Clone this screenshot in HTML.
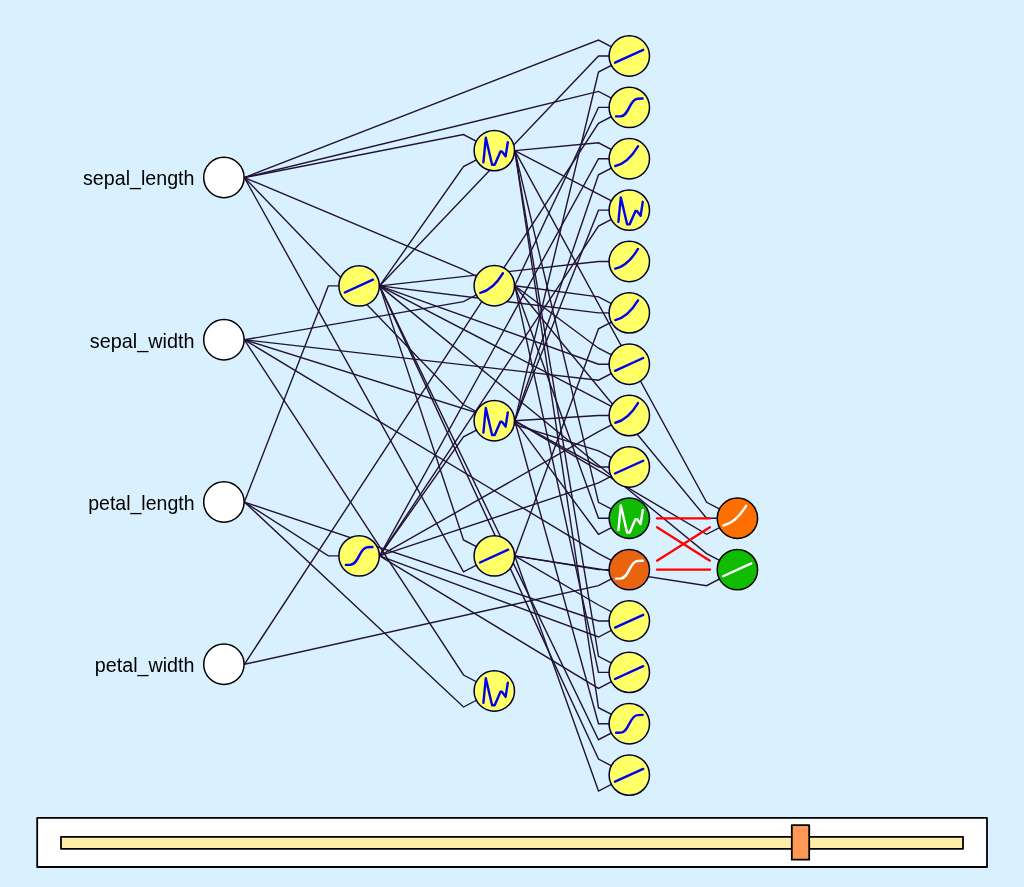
<!DOCTYPE html>
<html><head><meta charset="utf-8"><title>Network</title>
<style>
html,body{margin:0;padding:0;background:#d9f0ff;}
body{width:1024px;height:887px;overflow:hidden;font-family:"Liberation Sans",sans-serif;}
svg{display:block;will-change:transform}
text{font-family:"Liberation Sans",sans-serif;font-size:20px;fill:#000}
</style></head><body>
<svg width="1024" height="887" viewBox="0 0 1024 887">
<g fill="none" stroke="#221236" stroke-width="1.4" stroke-linejoin="miter">
<polyline points="244.40,502.05 328.30,285.90 359.10,285.90"/>
<polyline points="244.40,502.05 328.30,555.90 359.10,555.90"/>
<polyline points="244.40,177.55 463.50,134.60 494.30,150.60"/>
<polyline points="379.60,285.90 463.50,166.60 494.30,150.60"/>
<polyline points="244.40,177.55 463.50,269.70 494.30,285.70"/>
<polyline points="244.40,339.80 463.50,301.70 494.30,285.70"/>
<polyline points="244.40,177.55 463.50,404.80 494.30,420.80"/>
<polyline points="379.60,555.90 463.50,436.80 494.30,420.80"/>
<polyline points="379.60,285.90 463.50,539.90 494.30,555.90"/>
<polyline points="244.40,177.55 463.50,571.90 494.30,555.90"/>
<polyline points="244.40,339.80 463.50,675.00 494.30,691.00"/>
<polyline points="244.40,502.05 463.50,707.00 494.30,691.00"/>
<polyline points="244.40,177.55 598.50,40.05 629.30,56.05"/>
<polyline points="379.60,285.90 598.50,56.05 629.30,56.05"/>
<polyline points="514.80,420.80 598.50,72.05 629.30,56.05"/>
<polyline points="244.40,177.55 598.50,91.41 629.30,107.41"/>
<polyline points="514.80,285.70 598.50,107.41 629.30,107.41"/>
<polyline points="244.40,664.30 598.50,123.41 629.30,107.41"/>
<polyline points="514.80,150.60 598.50,142.77 629.30,158.77"/>
<polyline points="379.60,555.90 598.50,158.77 629.30,158.77"/>
<polyline points="514.80,420.80 598.50,174.77 629.30,158.77"/>
<polyline points="514.80,150.60 598.50,194.13 629.30,210.13"/>
<polyline points="514.80,420.80 598.50,210.13 629.30,210.13"/>
<polyline points="379.60,555.90 598.50,226.13 629.30,210.13"/>
<polyline points="379.60,285.90 598.50,261.49 629.30,261.49"/>
<polyline points="514.80,285.70 598.50,296.85 629.30,312.85"/>
<polyline points="379.60,285.90 598.50,312.85 629.30,312.85"/>
<polyline points="514.80,555.90 598.50,328.85 629.30,312.85"/>
<polyline points="514.80,285.70 598.50,348.21 629.30,364.21"/>
<polyline points="379.60,285.90 598.50,364.21 629.30,364.21"/>
<polyline points="244.40,339.80 598.50,380.21 629.30,364.21"/>
<polyline points="379.60,285.90 598.50,399.57 629.30,415.57"/>
<polyline points="514.80,420.80 598.50,415.57 629.30,415.57"/>
<polyline points="379.60,555.90 598.50,431.57 629.30,415.57"/>
<polyline points="244.40,339.80 598.50,450.93 629.30,466.93"/>
<polyline points="514.80,420.80 598.50,466.93 629.30,466.93"/>
<polyline points="379.60,555.90 598.50,482.93 629.30,466.93"/>
<polyline points="514.80,150.60 598.50,502.29 629.30,518.29"/>
<polyline points="514.80,285.70 598.50,518.29 629.30,518.29"/>
<polyline points="514.80,420.80 598.50,534.29 629.30,518.29"/>
<polyline points="244.40,339.80 598.50,553.65 629.30,569.65"/>
<polyline points="514.80,555.90 598.50,569.65 629.30,569.65"/>
<polyline points="244.40,664.30 598.50,585.65 629.30,569.65"/>
<polyline points="514.80,555.90 598.50,605.01 629.30,621.01"/>
<polyline points="244.40,502.05 598.50,621.01 629.30,621.01"/>
<polyline points="379.60,555.90 598.50,637.01 629.30,621.01"/>
<polyline points="514.80,150.60 598.50,656.37 629.30,672.37"/>
<polyline points="514.80,285.70 598.50,672.37 629.30,672.37"/>
<polyline points="379.60,555.90 598.50,688.37 629.30,672.37"/>
<polyline points="514.80,150.60 598.50,707.73 629.30,723.73"/>
<polyline points="514.80,420.80 598.50,723.73 629.30,723.73"/>
<polyline points="379.60,285.90 598.50,739.73 629.30,723.73"/>
<polyline points="379.60,285.90 598.50,759.09 629.30,775.09"/>
<polyline points="514.80,555.90 598.50,791.09 629.30,775.09"/>
<polyline points="514.80,150.60 706.60,502.30 737.40,518.30"/>
<polyline points="514.80,285.70 706.60,518.30 737.40,518.30"/>
<polyline points="514.80,420.80 706.60,534.30 737.40,518.30"/>
<polyline points="379.60,285.90 706.60,553.65 737.40,569.65"/>
<polyline points="514.80,555.90 706.60,585.65 737.40,569.65"/>
</g>
<g fill="none" stroke="#ff0000" stroke-width="2.2" stroke-linecap="round">
<line x1="656.8" y1="518.3" x2="710.1" y2="518.3"/>
<line x1="657" y1="527.2" x2="709.9" y2="560.7"/>
<line x1="657" y1="560.7" x2="709.9" y2="527.2"/>
<line x1="656.8" y1="569.6" x2="710.1" y2="569.6"/>
</g>
<circle cx="223.90" cy="177.55" r="20.2" fill="#fff" stroke="#000" stroke-width="1.5"/>
<circle cx="223.90" cy="339.80" r="20.2" fill="#fff" stroke="#000" stroke-width="1.5"/>
<circle cx="223.90" cy="502.05" r="20.2" fill="#fff" stroke="#000" stroke-width="1.5"/>
<circle cx="223.90" cy="664.30" r="20.2" fill="#fff" stroke="#000" stroke-width="1.5"/>
<g transform="translate(359.10,285.90)"><circle r="20.2" fill="#ffff66" stroke="#000030" stroke-width="1.5"/><path d="M-14.3,6.6 L13.9,-6.2" fill="none" stroke="#0000ee" stroke-width="2.4" stroke-linecap="round" stroke-linejoin="round"/></g>
<g transform="translate(359.10,555.90)"><circle r="20.2" fill="#ffff66" stroke="#000030" stroke-width="1.5"/><path d="M-13.2,9 L-8.5,8.9 C-4.5,8.6 -2.5,5 0,0 C2.5,-5 4.5,-8.3 8.3,-8.6 L13.3,-8.9" fill="none" stroke="#0000ee" stroke-width="2.4" stroke-linecap="round" stroke-linejoin="round"/></g>
<g transform="translate(494.30,150.60)"><circle r="20.2" fill="#ffff66" stroke="#000030" stroke-width="1.5"/><path d="M-10.9,11.8 L-8.5,-12.8 L-2.2,14.2 L0.4,14.2 L6.2,0.8 L7.6,0.8 L11.3,5.7 L13.5,-8.3" fill="none" stroke="#0000ee" stroke-width="2.4" stroke-linecap="round" stroke-linejoin="round"/></g>
<g transform="translate(494.30,285.70)"><circle r="20.2" fill="#ffff66" stroke="#000030" stroke-width="1.5"/><path d="M-14,7.2 C-6.5,5.5 1.6,-0.7 8.7,-12.5" fill="none" stroke="#0000ee" stroke-width="2.4" stroke-linecap="round" stroke-linejoin="round"/></g>
<g transform="translate(494.30,420.80)"><circle r="20.2" fill="#ffff66" stroke="#000030" stroke-width="1.5"/><path d="M-10.9,11.8 L-8.5,-12.8 L-2.2,14.2 L0.4,14.2 L6.2,0.8 L7.6,0.8 L11.3,5.7 L13.5,-8.3" fill="none" stroke="#0000ee" stroke-width="2.4" stroke-linecap="round" stroke-linejoin="round"/></g>
<g transform="translate(494.30,555.90)"><circle r="20.2" fill="#ffff66" stroke="#000030" stroke-width="1.5"/><path d="M-14.3,6.6 L13.9,-6.2" fill="none" stroke="#0000ee" stroke-width="2.4" stroke-linecap="round" stroke-linejoin="round"/></g>
<g transform="translate(494.30,691.00)"><circle r="20.2" fill="#ffff66" stroke="#000030" stroke-width="1.5"/><path d="M-10.9,11.8 L-8.5,-12.8 L-2.2,14.2 L0.4,14.2 L6.2,0.8 L7.6,0.8 L11.3,5.7 L13.5,-8.3" fill="none" stroke="#0000ee" stroke-width="2.4" stroke-linecap="round" stroke-linejoin="round"/></g>
<g transform="translate(629.30,56.05)"><circle r="20.2" fill="#ffff66" stroke="#000030" stroke-width="1.5"/><path d="M-14.3,6.6 L13.9,-6.2" fill="none" stroke="#0000ee" stroke-width="2.4" stroke-linecap="round" stroke-linejoin="round"/></g>
<g transform="translate(629.30,107.41)"><circle r="20.2" fill="#ffff66" stroke="#000030" stroke-width="1.5"/><path d="M-13.2,9 L-8.5,8.9 C-4.5,8.6 -2.5,5 0,0 C2.5,-5 4.5,-8.3 8.3,-8.6 L13.3,-8.9" fill="none" stroke="#0000ee" stroke-width="2.4" stroke-linecap="round" stroke-linejoin="round"/></g>
<g transform="translate(629.30,158.77)"><circle r="20.2" fill="#ffff66" stroke="#000030" stroke-width="1.5"/><path d="M-14,7.2 C-6.5,5.5 1.6,-0.7 8.7,-12.5" fill="none" stroke="#0000ee" stroke-width="2.4" stroke-linecap="round" stroke-linejoin="round"/></g>
<g transform="translate(629.30,210.13)"><circle r="20.2" fill="#ffff66" stroke="#000030" stroke-width="1.5"/><path d="M-10.9,11.8 L-8.5,-12.8 L-2.2,14.2 L0.4,14.2 L6.2,0.8 L7.6,0.8 L11.3,5.7 L13.5,-8.3" fill="none" stroke="#0000ee" stroke-width="2.4" stroke-linecap="round" stroke-linejoin="round"/></g>
<g transform="translate(629.30,261.49)"><circle r="20.2" fill="#ffff66" stroke="#000030" stroke-width="1.5"/><path d="M-14,7.2 C-6.5,5.5 1.6,-0.7 8.7,-12.5" fill="none" stroke="#0000ee" stroke-width="2.4" stroke-linecap="round" stroke-linejoin="round"/></g>
<g transform="translate(629.30,312.85)"><circle r="20.2" fill="#ffff66" stroke="#000030" stroke-width="1.5"/><path d="M-14,7.2 C-6.5,5.5 1.6,-0.7 8.7,-12.5" fill="none" stroke="#0000ee" stroke-width="2.4" stroke-linecap="round" stroke-linejoin="round"/></g>
<g transform="translate(629.30,364.21)"><circle r="20.2" fill="#ffff66" stroke="#000030" stroke-width="1.5"/><path d="M-14.3,6.6 L13.9,-6.2" fill="none" stroke="#0000ee" stroke-width="2.4" stroke-linecap="round" stroke-linejoin="round"/></g>
<g transform="translate(629.30,415.57)"><circle r="20.2" fill="#ffff66" stroke="#000030" stroke-width="1.5"/><path d="M-14,7.2 C-6.5,5.5 1.6,-0.7 8.7,-12.5" fill="none" stroke="#0000ee" stroke-width="2.4" stroke-linecap="round" stroke-linejoin="round"/></g>
<g transform="translate(629.30,466.93)"><circle r="20.2" fill="#ffff66" stroke="#000030" stroke-width="1.5"/><path d="M-14.3,6.6 L13.9,-6.2" fill="none" stroke="#0000ee" stroke-width="2.4" stroke-linecap="round" stroke-linejoin="round"/></g>
<g transform="translate(629.30,518.29)"><circle r="20.2" fill="#11bb00" stroke="#000030" stroke-width="1.5"/><path d="M-10.9,11.8 L-8.5,-12.8 L-2.2,14.2 L0.4,14.2 L6.2,0.8 L7.6,0.8 L11.3,5.7 L13.5,-8.3" fill="none" stroke="#ffffff" stroke-width="2.4" stroke-linecap="round" stroke-linejoin="round"/></g>
<g transform="translate(629.30,569.65)"><circle r="20.2" fill="#e8640f" stroke="#000030" stroke-width="1.5"/><path d="M-13.2,9 L-8.5,8.9 C-4.5,8.6 -2.5,5 0,0 C2.5,-5 4.5,-8.3 8.3,-8.6 L13.3,-8.9" fill="none" stroke="#ffffff" stroke-width="2.4" stroke-linecap="round" stroke-linejoin="round"/></g>
<g transform="translate(629.30,621.01)"><circle r="20.2" fill="#ffff66" stroke="#000030" stroke-width="1.5"/><path d="M-14.3,6.6 L13.9,-6.2" fill="none" stroke="#0000ee" stroke-width="2.4" stroke-linecap="round" stroke-linejoin="round"/></g>
<g transform="translate(629.30,672.37)"><circle r="20.2" fill="#ffff66" stroke="#000030" stroke-width="1.5"/><path d="M-14.3,6.6 L13.9,-6.2" fill="none" stroke="#0000ee" stroke-width="2.4" stroke-linecap="round" stroke-linejoin="round"/></g>
<g transform="translate(629.30,723.73)"><circle r="20.2" fill="#ffff66" stroke="#000030" stroke-width="1.5"/><path d="M-13.2,9 L-8.5,8.9 C-4.5,8.6 -2.5,5 0,0 C2.5,-5 4.5,-8.3 8.3,-8.6 L13.3,-8.9" fill="none" stroke="#0000ee" stroke-width="2.4" stroke-linecap="round" stroke-linejoin="round"/></g>
<g transform="translate(629.30,775.09)"><circle r="20.2" fill="#ffff66" stroke="#000030" stroke-width="1.5"/><path d="M-14.3,6.6 L13.9,-6.2" fill="none" stroke="#0000ee" stroke-width="2.4" stroke-linecap="round" stroke-linejoin="round"/></g>
<g transform="translate(737.40,518.30)"><circle r="20.2" fill="#ff6f00" stroke="#000000" stroke-width="1.5"/><path d="M-14,7.2 C-6.5,5.5 1.6,-0.7 8.7,-12.5" fill="none" stroke="#ffffff" stroke-width="2.4" stroke-linecap="round" stroke-linejoin="round"/></g>
<g transform="translate(737.40,569.65)"><circle r="20.2" fill="#11bb00" stroke="#000000" stroke-width="1.5"/><path d="M-14.3,6.6 L13.9,-6.2" fill="none" stroke="#ffffff" stroke-width="2.4" stroke-linecap="round" stroke-linejoin="round"/></g>
<text transform="translate(194.50,185.45) scale(0.9830,1)" text-anchor="end">sepal_length</text><text transform="translate(194.50,347.70) scale(0.9920,1)" text-anchor="end">sepal_width</text><text transform="translate(194.50,509.95) scale(0.9760,1)" text-anchor="end">petal_length</text><text transform="translate(194.50,672.20) scale(0.9850,1)" text-anchor="end">petal_width</text>
<rect x="37.2" y="817.9" width="949.8" height="49.1" fill="#fff" stroke="#000" stroke-width="1.8" stroke-linejoin="round"/>
<rect x="61" y="836.8" width="902" height="12" fill="#ffeeaa" stroke="#000" stroke-width="1.8" stroke-linejoin="round"/>
<rect x="791.8" y="825.2" width="17.4" height="34.5" fill="#ff9955" stroke="#000" stroke-width="1.8" stroke-linejoin="round"/>
</svg>
</body></html>
